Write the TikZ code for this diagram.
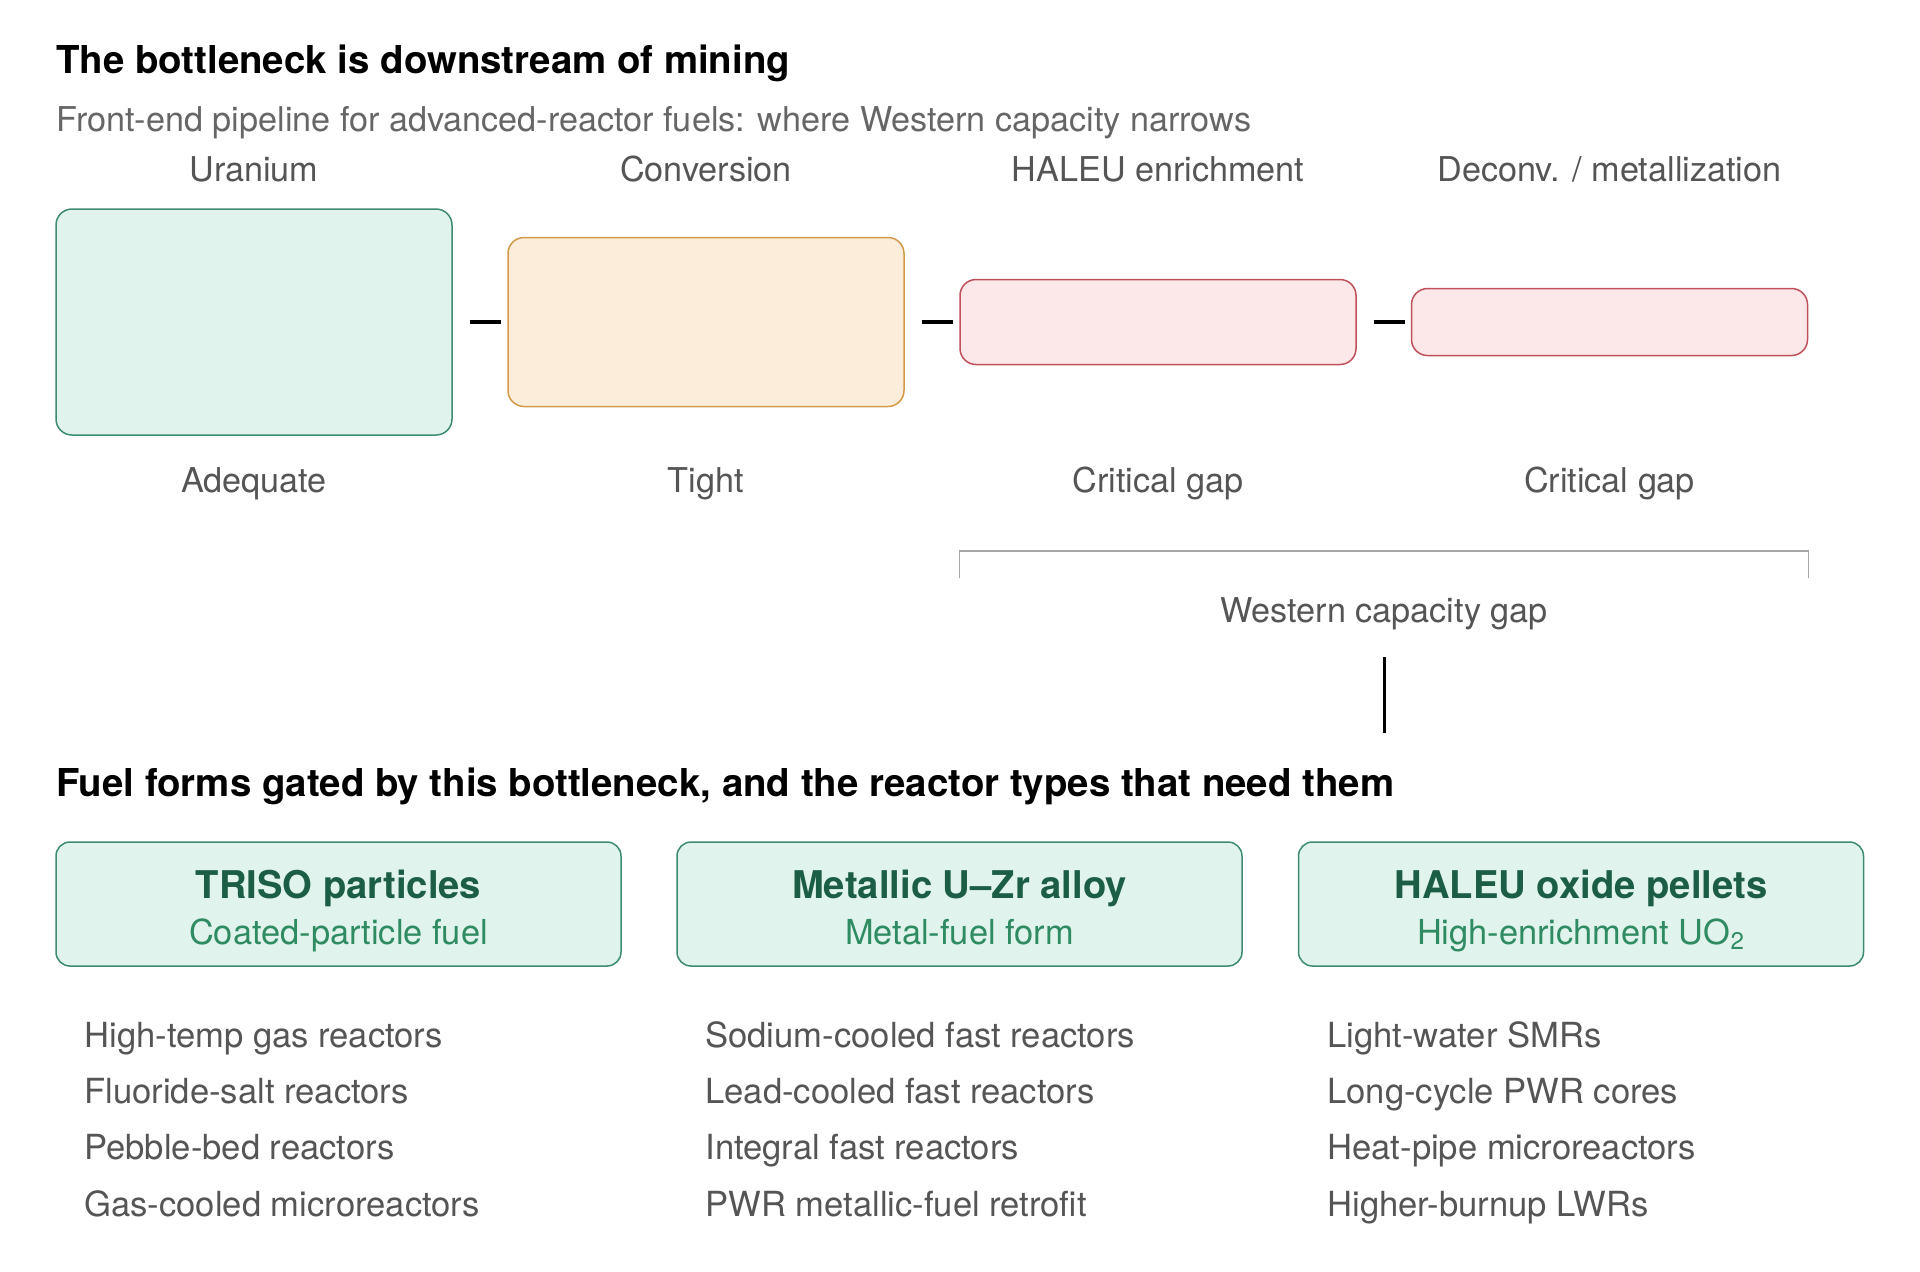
\documentclass[tikz,border=0pt]{standalone}
\usepackage{fontspec}
\setmainfont{TeX Gyre Heros}
\usetikzlibrary{positioning}

\definecolor{okfill}{HTML}{E0F3EC}
\definecolor{okline}{HTML}{3E8C70}
\definecolor{tightfill}{HTML}{FBEDDA}
\definecolor{tightline}{HTML}{D49A4A}
\definecolor{gapfill}{HTML}{FCE8E8}
\definecolor{gapline}{HTML}{C0505A}
\definecolor{labelgray}{HTML}{555555}
\definecolor{subgray}{HTML}{666666}
\definecolor{darkgreen}{HTML}{1B5E45}
\definecolor{midgreen}{HTML}{2E8B62}

\begin{document}
\begin{tikzpicture}[x=0.5pt, y=-0.5pt,
stage/.style={
draw,
rounded corners=8pt,
line width=0.75pt,
minimum width=198pt,
inner sep=0pt
},
fuel/.style={
draw=okline,
fill=okfill,
rounded corners=7pt,
line width=0.75pt,
minimum width=282.5pt,
minimum height=62pt
},
fueltitle/.style={
anchor=base,
inner sep=0pt,
text=darkgreen,
font=\fontsize{19.1}{23}\selectfont\bfseries
},
fuelsub/.style={
anchor=base,
inner sep=0pt,
text=midgreen,
font=\fontsize{17.2}{20}\selectfont
},
label/.style={
anchor=base,
inner sep=0pt,
text=labelgray,
font=\fontsize{17.1}{20}\selectfont
},
item/.style={
anchor=base west,
inner sep=0pt,
text=labelgray,
font=\fontsize{17.3}{20}\selectfont
},
heading/.style={
anchor=base west,
inner sep=0pt,
font=\fontsize{19.2}{23}\selectfont\bfseries
},
link/.style={line width=2pt, black},
stem/.style={line width=1.5pt, black},
bracket/.style={line width=0.6pt, black!35}
]

\useasboundingbox[fill=white] (0,0) rectangle (1920,1271);

% titles
\node[heading] (title) at (56,73) {The bottleneck is downstream of mining};
\node[label, anchor=base west, text=subgray] (subtitle) at (56,131) {Front-end pipeline for advanced-reactor fuels: where Western capacity narrows};

% pipeline stages
\node[stage, fill=okfill, draw=okline, minimum height=113pt] (uran) at (254,322) {};
\node[stage, fill=tightfill, draw=tightline, minimum height=84.5pt] (conv) at (706,322) {};
\node[stage, fill=gapfill, draw=gapline, minimum height=42.5pt] (enrich) at (1158,322) {};
\node[stage, fill=gapfill, draw=gapline, minimum height=33.5pt] (deconv) at (1609.5,322) {};

\node[label] (uranlbl) at (254,181) {Uranium};
\node[label] (convlbl) at (706,181) {Conversion};
\node[label] (enrichlbl) at (1158,181) {HALEU enrichment};
\node[label] (deconvlbl) at (1609.5,181) {Deconv. / metallization};

\node[label] (uranstat) at (254,492) {Adequate};
\node[label] (convstat) at (706,492) {Tight};
\node[label] (enrichstat) at (1158,492) {Critical gap};
\node[label] (deconvstat) at (1609.5,492) {Critical gap};

\draw[link, shorten <=8.5pt, shorten >=3pt] (uran.east) -- (conv.west);
\draw[link, shorten <=8.5pt, shorten >=3pt] (conv.east) -- (enrich.west);
\draw[link, shorten <=8.5pt, shorten >=3pt] (enrich.east) -- (deconv.west);

% western gap bracket
\coordinate (brktop) at (0,551);
\coordinate (brkfoot) at (0,578);
\draw[bracket] (enrich.west |- brkfoot) -- (enrich.west |- brktop) -- (deconv.east |- brktop) -- (deconv.east |- brkfoot);

\node[label] (gaplbl) at (1384,622) {Western capacity gap};
\coordinate (gapend) at (1384,733);
\draw[stem, shorten <=13.5pt] (gaplbl.south) -- (gapend);

% fuel forms
\node[heading] (fuelhead) at (56,796) {Fuel forms gated by this bottleneck, and the reactor types that need them};

\node[fuel] (triso) at (338.5,904) {};
\node[fuel] (metal) at (959.5,904) {};
\node[fuel] (oxide) at (1581,904) {};

\node[fueltitle] (trisotitle) at (338.5,898) {TRISO particles};
\node[fuelsub] (trisosub) at (338.5,944) {Coated-particle fuel};
\node[fueltitle] (metaltitle) at (959.5,898) {Metallic U–Zr alloy};
\node[fuelsub] (metalsub) at (959.5,944) {Metal-fuel form};
\node[fueltitle] (oxidetitle) at (1581,898) {HALEU oxide pellets};
\node[fuelsub] (oxidesub) at (1581,944) {High-enrichment UO\textsubscript{2}};

% reactor types
\node[item] (t1) at (84,1047) {High-temp gas reactors};
\node[item] (t2) at (84,1103) {Fluoride-salt reactors};
\node[item] (t3) at (84,1159) {Pebble-bed reactors};
\node[item] (t4) at (84,1216) {Gas-cooled microreactors};

\node[item] (m1) at (705,1047) {Sodium-cooled fast reactors};
\node[item] (m2) at (705,1103) {Lead-cooled fast reactors};
\node[item] (m3) at (705,1159) {Integral fast reactors};
\node[item] (m4) at (705,1216) {PWR metallic-fuel retrofit};

\node[item] (o1) at (1327,1047) {Light-water SMRs};
\node[item] (o2) at (1327,1103) {Long-cycle PWR cores};
\node[item] (o3) at (1327,1159) {Heat-pipe microreactors};
\node[item] (o4) at (1327,1216) {Higher-burnup LWRs};

\end{tikzpicture}
\end{document}
